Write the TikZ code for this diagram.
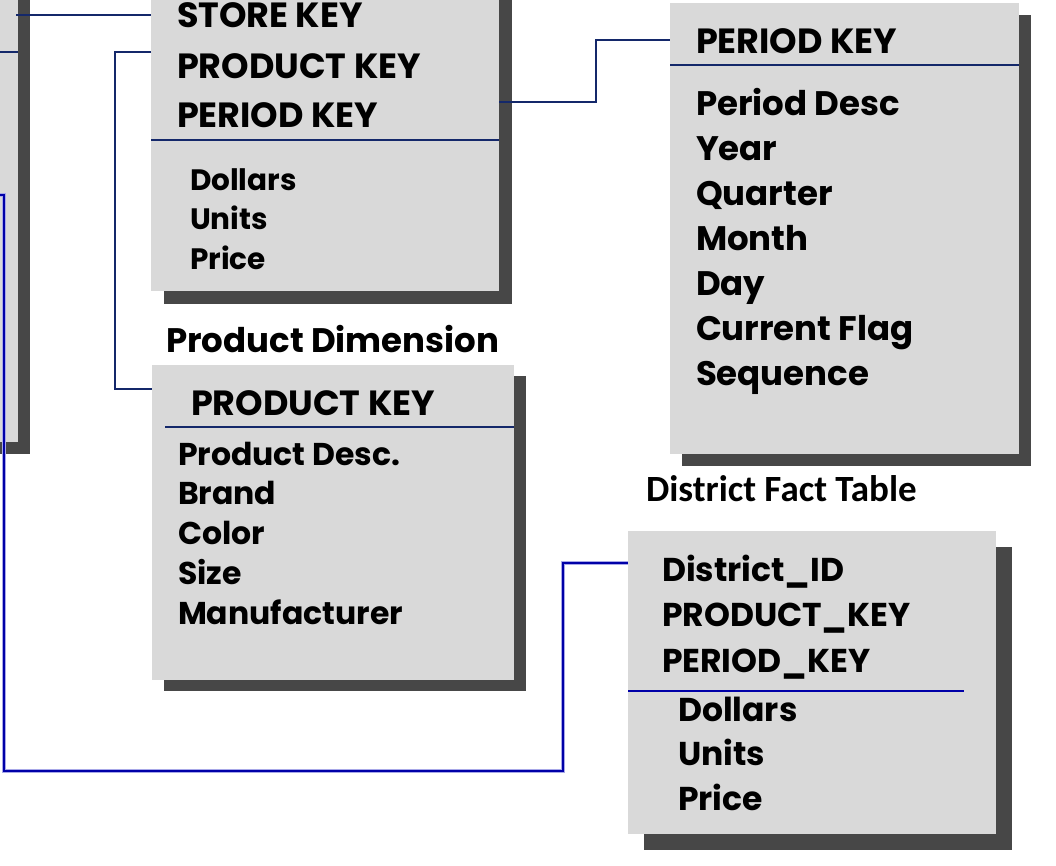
\documentclass[tikz,border=0pt]{standalone}
\usepackage{fontspec}
\newfontfamily\gothic{Poppins}
\newfontfamily\calib{Carlito}
\usetikzlibrary{shadows}
\definecolor{boxgray}{HTML}{D9D9D9}
\definecolor{shadowgray}{HTML}{474747}
\definecolor{navy}{HTML}{14286A}
\definecolor{linkblue}{HTML}{0000A8}
\definecolor{halo}{HTML}{A8A8E8}
\tikzset{
  tbl/.style={fill=boxgray, draw=none, anchor=north west, inner sep=0pt, outer sep=0pt},
  sep/.style={draw=navy, line width=1.8pt},
  link/.style={draw=navy, line width=1.6pt},
  blink/.style={draw=linkblue, line width=2pt, preaction={draw=halo, line width=3.6pt}},
  txt/.style={anchor=base west, inner sep=0pt, outer sep=0pt, text=black},
  keyf/.style={txt, font=\gothic\bfseries\fontsize{35}{40}\selectfont},
  itemf/.style={txt, font=\gothic\bfseries\fontsize{#1}{40}\selectfont},
  lab/.style={txt, font=\gothic\bfseries\fontsize{34}{40}\selectfont},
}
\begin{document}
\begin{tikzpicture}[x=1pt, y=-1pt]
\useasboundingbox (0,0) rectangle (1056,865);
\fill[white] (0,0) rectangle (1056,865);

% ---- left partial table ----
\fill[shadowgray] (-20,0) rectangle (30,454);
\node[tbl, minimum width=38pt, minimum height=462pt] (leftbox) at (-20,-20) {};
\draw[link] (0,52) -- (leftbox.east |- 0,52);

% ---- fact table ----
\node[tbl, minimum width=348pt, minimum height=311pt,
      drop shadow={shadow xshift=13pt, shadow yshift=-13pt, fill=shadowgray, opacity=1}] (fact) at (151,-20) {};
\draw[sep] (fact.west |- 0,140) -- (fact.east |- 0,140);
\node[keyf] (fk1) at (177,27) {STORE KEY};
\node[keyf] (fk2) at (177,78) {PRODUCT KEY};
\node[keyf] (fk3) at (177,127) {PERIOD KEY};
\foreach \t [count=\i] in {Dollars,Units,Price}
  \node[itemf=29.5] (fi\i) at (190,{190+39.5*(\i-1)}) {\t};

% ---- period table ----
\node[tbl, minimum width=349pt, minimum height=451pt,
      drop shadow={shadow xshift=12pt, shadow yshift=-12pt, fill=shadowgray, opacity=1}] (period) at (670,3) {};
\draw[sep] (period.west |- 0,65) -- (period.east |- 0,65);
\node[keyf] (pk) at (696,53) {PERIOD KEY};
\foreach \t [count=\i] in {Period Desc,Year,Quarter,Month,Day,Current Flag,Sequence}
  \node[itemf=34] (pi\i) at (696,{115+45*(\i-1)}) {\t};

% ---- product dimension ----
\node[lab] (plabel) at (166,352) {Product Dimension};
\node[tbl, minimum width=362pt, minimum height=315pt,
      drop shadow={shadow xshift=12pt, shadow yshift=-11pt, fill=shadowgray, opacity=1}] (product) at (152,365) {};
\draw[sep] (165,427) -- (product.east |- 0,427);
\node[keyf] (prk) at (191,415) {PRODUCT KEY};
\foreach \t [count=\i] in {Product Desc.,Brand,Color,Size,Manufacturer}
  \node[itemf=31.5] (pri\i) at (178,{465+39.8*(\i-1)}) {\t};

% ---- district fact table ----
\node[txt, font=\calib\bfseries\fontsize{37}{40}\selectfont] (dlabel) at (646,501) {District Fact Table};
\node[tbl, minimum width=368pt, minimum height=303pt,
      drop shadow={shadow xshift=16pt, shadow yshift=-16pt, fill=shadowgray, opacity=1}] (district) at (628,531) {};
\draw[sep, draw=linkblue] (district.west |- 0,691) -- (964,691);
\foreach \t [count=\i] in {District\_ID,PRODUCT\_KEY,PERIOD\_KEY}
  \node[itemf=33] (dk\i) at (662,{581+45.5*(\i-1)}) {\t};
\foreach \t [count=\i] in {Dollars,Units,Price}
  \node[itemf=33] (di\i) at (678,{721+44.5*(\i-1)}) {\t};

% ---- connectors ----
\coordinate (c1) at (16,15);
\draw[link] (c1) -- (fact.west |- c1);
\draw[link] (fact.west |- 0,52) -- (115,52) -- (115,389) -- (product.west |- 0,389);
\draw[link] (fact.east |- 0,102) -- (596,102) -- (596,40) -- (period.west |- 0,40);
\coordinate (c2) at (0,195);
\draw[blink] (district.west |- 0,563) -- (563,563) -- (563,771) -- (4,771) -- (4,195) -- (c2);
\end{tikzpicture}
\end{document}
